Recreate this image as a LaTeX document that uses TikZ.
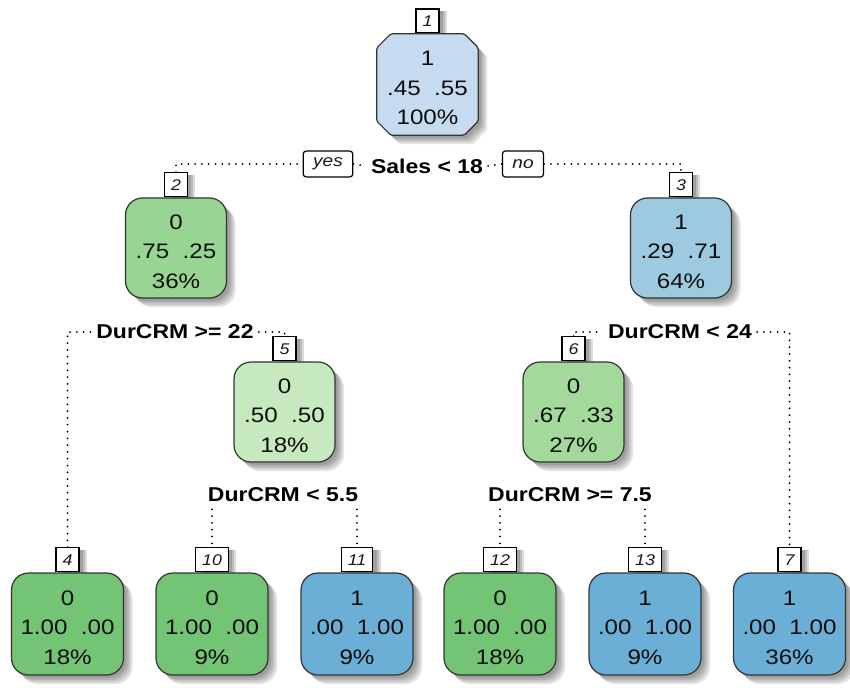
\documentclass[tikz,border=0pt]{standalone}
\usepackage{fontspec}
\setmainfont{Liberation Sans}[FakeStretch=1.15]
\usetikzlibrary{shadows}
\definecolor{bluepale}{HTML}{C6DBEF}
\definecolor{bluemid}{HTML}{9ECAE1}
\definecolor{bluedeep}{HTML}{6BAED6}
\definecolor{greenpale}{HTML}{C7E9C0}
\definecolor{greenmid}{HTML}{A3DA9C}
\definecolor{greenmidb}{HTML}{98D593}
\definecolor{greendeep}{HTML}{74C476}
\pgfdeclarelayer{paper}
\pgfdeclarelayer{tabs}
\pgfsetlayers{paper,tabs,main}
\begin{document}
\begin{tikzpicture}[x=1pt,y=-1pt,
  shadowstep/.style={general shadow={fill=black,opacity=0.11,shadow xshift=#1pt,shadow yshift=-#1pt}},
  soft shadow/.style={shadowstep=3,shadowstep=5,shadowstep=7,shadowstep=9},
  tabstep/.style={general shadow={fill=black,opacity=0.14,shadow xshift=#1pt,shadow yshift=-2pt}},
  tnode/.style={draw=black!80, line width=1.2pt, rounded corners=17pt,
    minimum width=101pt, minimum height=100pt, inner sep=0pt, soft shadow},
  leaf/.style={tnode, minimum width=112pt, minimum height=102pt},
  info/.style={align=center, font=\fontsize{21}{29.5}\selectfont, text=black!95, inner sep=0pt},
  tab/.style={draw=black, line width=1.3pt, fill=white, minimum width=22pt, minimum height=24pt,
    inner xsep=6.5pt, inner ysep=0pt, anchor=south, text=black!90,
    font=\fontsize{15.5}{15.5}\selectfont\itshape, tabstep=4, tabstep=6, tabstep=8},
  answer/.style={draw=black, line width=1.2pt, rounded corners=3pt, fill=white,
    minimum height=26pt, inner xsep=10pt, inner ysep=0pt, text=black!90,
    font=\fontsize{16.5}{16.5}\selectfont\itshape},
  split/.style={font=\fontsize{20}{20}\selectfont\bfseries, text=black, inner xsep=5pt, inner ysep=7pt},
  conn/.style={draw=black, line width=2pt, line cap=round, dash pattern=on 0pt off 6.8pt}
]
\begin{pgfonlayer}{paper}
\fill[white] (0,0) rectangle (850,687);
\end{pgfonlayer}
\useasboundingbox (0,0) rectangle (850,687);

% tree nodes; the root's frame has cut corners and is drawn below
\node[minimum width=101pt, minimum height=101pt, inner sep=0pt] (n1) at (427.5,84.5) {};
\draw[draw=black!80, line width=1.2pt, fill=bluepale, rounded corners=1.5pt, soft shadow]
  ([xshift=14pt]n1.north west) -- ([xshift=-14pt]n1.north east)
  -- ([yshift=-14pt]n1.north east) -- ([yshift=14pt]n1.south east)
  -- ([xshift=-14pt]n1.south east) -- ([xshift=14pt]n1.south west)
  -- ([yshift=14pt]n1.south west) -- ([yshift=-14pt]n1.north west) -- cycle;
\node[tnode, fill=greenmidb] (n2) at (176,248) {};
\node[tnode, fill=bluemid] (n3) at (681,248) {};
\node[tnode, fill=greenpale] (n5) at (284.5,412) {};
\node[tnode, fill=greenmid] (n6) at (573.5,412) {};
\node[leaf, fill=greendeep] (n4) at (67.5,624) {};
\node[leaf, fill=greendeep] (n10) at (212,624) {};
\node[leaf, fill=bluedeep] (n11) at (357,624) {};
\node[leaf, fill=greendeep] (n12) at (500,624) {};
\node[leaf, fill=bluedeep] (n13) at (645,624) {};
\node[leaf, fill=bluedeep] (n7) at (789.5,624) {};

% class, probabilities and share of each node
\node[info] (c1) at ([yshift=-3.5pt]n1.center) {1\\.45\ \ .55\\100\%};
\node[info] (c2) at ([yshift=-3.5pt]n2.center) {0\\.75\ \ .25\\36\%};
\node[info] (c3) at ([yshift=-3.5pt]n3.center) {1\\.29\ \ .71\\64\%};
\node[info] (c5) at ([yshift=-3.5pt]n5.center) {0\\.50\ \ .50\\18\%};
\node[info] (c6) at ([yshift=-3.5pt]n6.center) {0\\.67\ \ .33\\27\%};
\node[info] (c4) at ([yshift=-3.5pt]n4.center) {0\\1.00\ \ .00\\18\%};
\node[info] (c10) at ([yshift=-3.5pt]n10.center) {0\\1.00\ \ .00\\9\%};
\node[info] (c11) at ([yshift=-3.5pt]n11.center) {1\\.00\ \ 1.00\\9\%};
\node[info] (c12) at ([yshift=-3.5pt]n12.center) {0\\1.00\ \ .00\\18\%};
\node[info] (c13) at ([yshift=-3.5pt]n13.center) {1\\.00\ \ 1.00\\9\%};
\node[info] (c7) at ([yshift=-3.5pt]n7.center) {1\\.00\ \ 1.00\\36\%};

% node number tabs
\begin{pgfonlayer}{tabs}
\node[tab] (t1) at (n1.north) {1};
\node[tab] (t2) at (n2.north) {2};
\node[tab] (t3) at (n3.north) {3};
\node[tab] (t5) at (n5.north) {5};
\node[tab] (t6) at (n6.north) {6};
\node[tab] (t4) at (n4.north) {4};
\node[tab] (t10) at (n10.north) {10};
\node[tab] (t11) at (n11.north) {11};
\node[tab] (t12) at (n12.north) {12};
\node[tab] (t13) at (n13.north) {13};
\node[tab] (t7) at (n7.north) {7};
\end{pgfonlayer}

% split rules
\node[split] (s1) at (427,166) {Sales < 18};
\node[answer] (yes) at (328,164) {yes};
\node[answer] (no) at (523,164) {no};
\node[split] (s2) at (175,332) {DurCRM >= 22};
\node[split] (s3) at (680,332) {DurCRM < 24};
\node[split] (s5) at (283,495) {DurCRM < 5.5};
\node[split] (s6) at (570,495) {DurCRM >= 7.5};

% branches
\draw[conn] (t2.north) |- (yes.west);
\draw[conn] (yes.east) -- (s1.west);
\draw[conn] (s1.east) -- (no.west);
\draw[conn] (no.east) -| (t3.north);
\draw[conn] (t4.north) |- (s2.west);
\draw[conn] (s2.east) -| (t5.north);
\draw[conn] (t6.north) |- (s3.west);
\draw[conn] (s3.east) -| (t7.north);
\draw[conn] (t10.north |- s5.south) -- (t10.north);
\draw[conn] (t11.north |- s5.south) -- (t11.north);
\draw[conn] (t12.north |- s6.south) -- (t12.north);
\draw[conn] (t13.north |- s6.south) -- (t13.north);
\end{tikzpicture}
\end{document}
